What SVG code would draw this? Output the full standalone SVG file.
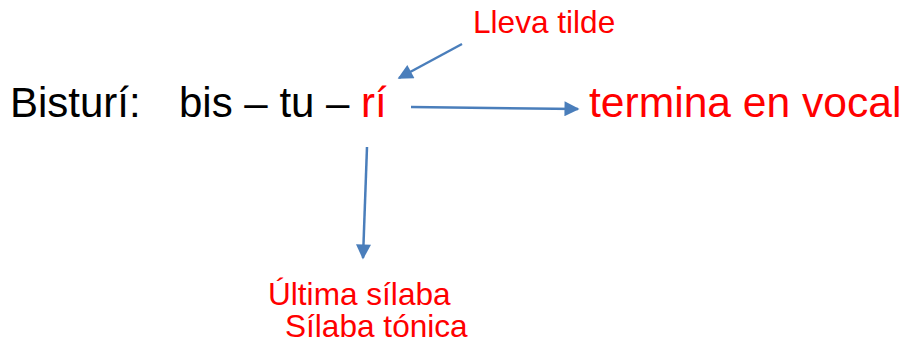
<svg xmlns="http://www.w3.org/2000/svg" width="905" height="347" viewBox="0 0 905 347">
<style>
.t{font-family:"Liberation Sans",Arial,sans-serif}
.big{font-size:42px}
.sm{font-size:31.6px;fill:#ff0000}
.red{fill:#ff0000}
.c{stroke:#4a7ebb;stroke-width:2.5;fill:none}
</style>
<defs>
<marker id="ah" viewBox="0 0 10 10" refX="9" refY="5" markerWidth="6.5" markerHeight="6" markerUnits="strokeWidth" orient="auto">
<path d="M0,0 L10,5 L0,10 z" fill="#4a7ebb"/>
</marker>
</defs>
<g id="word"><text class="t big" x="10" y="117">Bisturí:</text></g>
<g id="syllables"><text class="t big" x="179" y="117">bis – tu – <tspan class="red">rí</tspan></text></g>
<g id="vocal"><text class="t big red" x="589" y="117" style="font-size:42.6px">termina en vocal</text></g>
<g id="tilde"><text class="t sm" x="473" y="33">Lleva tilde</text></g>
<g id="silaba"><text class="t sm" x="268" y="305">Última sílaba</text><text class="t sm" x="285" y="337">Sílaba tónica</text></g>
<g id="connectors">
<line class="c" x1="462" y1="44" x2="399" y2="78" marker-end="url(#ah)"/>
<line class="c" x1="411" y1="107" x2="578" y2="109" marker-end="url(#ah)"/>
<line class="c" x1="367" y1="147" x2="363" y2="258" marker-end="url(#ah)"/>
</g>
</svg>
